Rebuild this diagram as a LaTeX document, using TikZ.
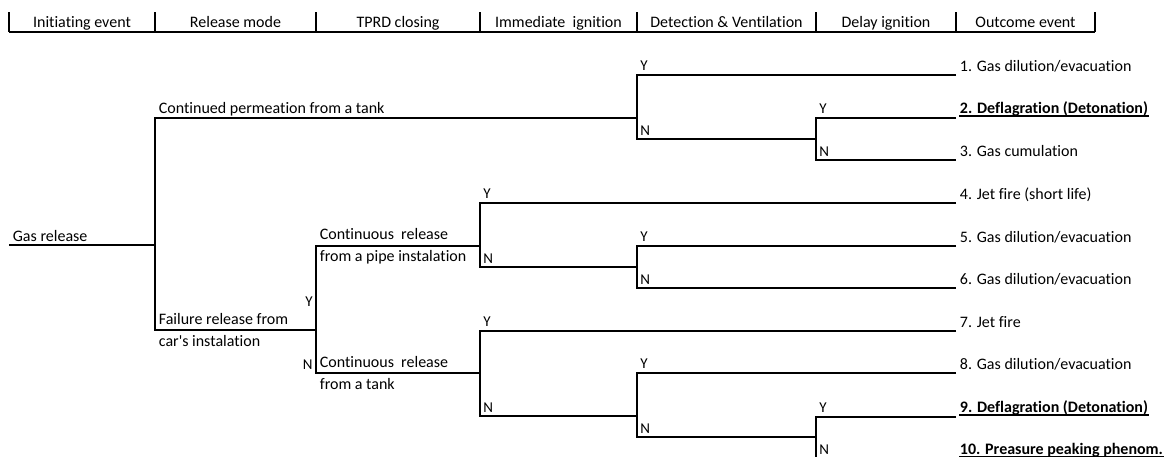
\documentclass[tikz,border=0pt]{standalone}
\usepackage{fontspec}
\setmainfont[Ligatures=NoCommon]{Carlito}
\usetikzlibrary{positioning}

\begin{document}
\begin{tikzpicture}[
x=1pt, y=-1pt,
line width=1.8pt,
every node/.style={font=\fontsize{16}{22}\selectfont},
head/.style={anchor=base, inner sep=0pt},
lbl/.style={anchor=base west, inner xsep=3pt, inner ysep=0pt},
lbltwo/.style={anchor=west, align=left, inner xsep=3pt, inner ysep=0pt},
yn/.style={anchor=base west, inner sep=0pt, font=\fontsize{15}{16}\selectfont},
ynleft/.style={yn, anchor=base east},
outcome/.style={anchor=base west, inner xsep=3pt, inner ysep=0pt},
worst/.style={outcome, font=\fontsize{16}{22}\selectfont\bfseries},
uline/.style={line width=1.4pt}
]
\useasboundingbox (0,0) rectangle (1173,456);

% header
\foreach \x in {9,155,316,480,637,816,956,1095}
  \draw (\x,12) -- (\x,32);
\draw (9,32) -- (1095,32);
\node[head] (hinit) at (82,27) {Initiating event};
\node[head] (hmode) at (235.5,27) {Release mode};
\node[head] (htprd) at (398,27) {TPRD closing};
\node[head] (himm) at (558.5,27) {Immediate\ \ ignition};
\node[head] (hdet) at (726.5,27) {Detection \& Ventilation};
\node[head] (hdel) at (886,27) {Delay ignition};
\node[head] (hout) at (1025.5,27) {Outcome event};

% tree points
\coordinate (gas) at (9,245);
\coordinate (rel) at (155,245);
\coordinate (relY) at (155,118);
\coordinate (relN) at (155,330);
\coordinate (det1) at (637,118);
\coordinate (det1Y) at (637,75);
\coordinate (det1N) at (637,139);
\coordinate (del1) at (816,139);
\coordinate (del1Y) at (816,118);
\coordinate (del1N) at (816,160);
\coordinate (tprd) at (316,330);
\coordinate (tprdY) at (316,246);
\coordinate (tprdN) at (316,373);
\coordinate (ign1) at (480,246);
\coordinate (ign1Y) at (480,203);
\coordinate (ign1N) at (480,267);
\coordinate (det2) at (637,267);
\coordinate (det2Y) at (637,246);
\coordinate (det2N) at (637,288);
\coordinate (ign2) at (480,373);
\coordinate (ign2Y) at (480,331);
\coordinate (ign2N) at (480,416);
\coordinate (det3) at (637,416);
\coordinate (det3Y) at (637,373);
\coordinate (det3N) at (637,437);
\coordinate (del3) at (816,437);
\coordinate (del3Y) at (816,417);
\coordinate (del3N) at (816,460);
\coordinate (endcol) at (956,0);

% outcome events
\path (det1Y -| endcol) ++(0,-4) node[outcome] (o1) {1. Gas dilution/evacuation};
\path (del1Y -| endcol) ++(0,-4.5) node[worst] (o2) {2. Deflagration (Detonation)};
\path (del1N -| endcol) ++(0,-4) node[outcome] (o3) {3. Gas cumulation};
\path (ign1Y -| endcol) ++(0,-4) node[outcome] (o4) {4. Jet fire (short life)};
\path (det2Y -| endcol) ++(0,-4) node[outcome] (o5) {5. Gas dilution/evacuation};
\path (det2N -| endcol) ++(0,-4) node[outcome] (o6) {6. Gas dilution/evacuation};
\path (ign2Y -| endcol) ++(0,-4) node[outcome] (o7) {7. Jet fire};
\path (det3Y -| endcol) ++(0,-4) node[outcome] (o8) {8. Gas dilution/evacuation};
\path (del3Y -| endcol) ++(0,-4.5) node[worst] (o9) {9. Deflagration (Detonation)};
\path (del3N -| endcol) ++(0,-6) node[worst] (o10) {10. Preasure peaking phenom.};
\draw[uline] ([xshift=3pt,yshift=-2.5pt]o2.base west) -- ([xshift=-3pt,yshift=-2.5pt]o2.base east);
\draw[uline] ([xshift=3pt,yshift=-2.5pt]o9.base west) -- ([xshift=-3pt,yshift=-2.5pt]o9.base east);
\draw[uline] ([xshift=3pt,yshift=-2.5pt]o10.base west) -- ([xshift=-3pt,yshift=-2.5pt]o10.base east);

% branches
\draw (gas) -- (rel);
\draw (det1) -- (relY) -- (relN) -- (tprd);
\draw (o1.base west |- det1Y) -- (det1Y) -- (det1N) -- (del1);
\draw (o2.base west |- del1Y) -- (del1Y) -- (del1N) -- (o3.base west |- del1N);
\draw (ign1) -- (tprdY) -- (tprdN) -- (ign2);
\draw (o4.base west |- ign1Y) -- (ign1Y) -- (ign1N) -- (det2);
\draw (o5.base west |- det2Y) -- (det2Y) -- (det2N) -- (o6.base west |- det2N);
\draw (o7.base west |- ign2Y) -- (ign2Y) -- (ign2N) -- (det3);
\draw (o8.base west |- det3Y) -- (det3Y) -- (det3N) -- (del3);
\draw (o9.base west |- del3Y) -- (del3Y) -- (del3N);

% branch texts
\node[lbl] (gasl) at ([yshift=4pt]gas) {Gas release};
\node[lbl] (perml) at ([yshift=5pt]relY) {Continued permeation from a tank};
\node[lbltwo] (faill) at (relN) {Failure release from\\car\textquotesingle s instalation};
\node[lbltwo] (pipel) at (tprdY) {Continuous\ \ release\\from a pipe instalation};
\node[lbltwo] (tankl) at (tprdN) {Continuous\ \ release\\from a tank};

% Y/N marks
\node[ynleft] (tprdYl) at ([xshift=-2.5pt,yshift=24pt]tprd) {Y};
\node[ynleft] (tprdNl) at ([xshift=-2.5pt,yshift=4pt]tprdN) {N};
\node[yn] (det1Yl) at ([xshift=2.5pt,yshift=5pt]det1Y) {Y};
\node[yn] (det1Nl) at ([xshift=2.5pt,yshift=4pt]det1N) {N};
\node[yn] (del1Yl) at ([xshift=2.5pt,yshift=5pt]del1Y) {Y};
\node[yn] (del1Nl) at ([xshift=2.5pt,yshift=4pt]del1N) {N};
\node[yn] (ign1Yl) at ([xshift=2.5pt,yshift=5pt]ign1Y) {Y};
\node[yn] (ign1Nl) at ([xshift=2.5pt,yshift=4pt]ign1N) {N};
\node[yn] (det2Yl) at ([xshift=2.5pt,yshift=5pt]det2Y) {Y};
\node[yn] (det2Nl) at ([xshift=2.5pt,yshift=4pt]det2N) {N};
\node[yn] (ign2Yl) at ([xshift=2.5pt,yshift=5pt]ign2Y) {Y};
\node[yn] (ign2Nl) at ([xshift=2.5pt,yshift=4pt]ign2N) {N};
\node[yn] (det3Yl) at ([xshift=2.5pt,yshift=5pt]det3Y) {Y};
\node[yn] (det3Nl) at ([xshift=2.5pt,yshift=4pt]det3N) {N};
\node[yn] (del3Yl) at ([xshift=2.5pt,yshift=5pt]del3Y) {Y};
\node[yn] (del3Nl) at ([xshift=2.5pt,yshift=6pt]del3N) {N};

\end{tikzpicture}
\end{document}
